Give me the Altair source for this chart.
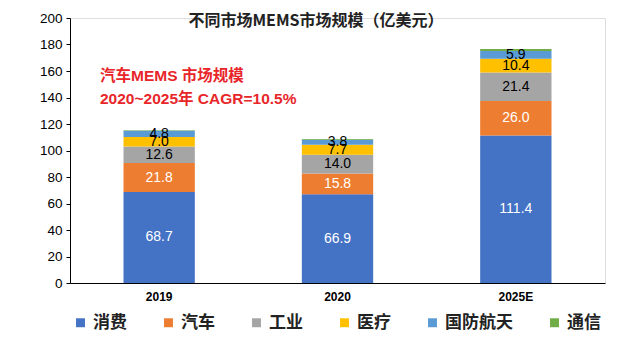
import altair as alt
import pandas as pd

years = ["2019", "2020", "2025E"]
segments = ["消费", "汽车", "工业", "医疗", "国防航天", "通信"]
colors = ["#4472C4", "#ED7D31", "#A5A5A5", "#FFC000", "#5B9BD5", "#70AD47"]
xiaofei = [68.7, 66.9, 111.4]
qiche = [21.8, 15.8, 26.0]
gongye = [12.6, 14.0, 21.4]
yiliao = [7.0, 7.7, 10.4]
guofang = [4.8, 3.8, 5.9]
tongxin = [0.4, 0.4, 1.5]
label_colors = ["white", "white", "black", "black", "black", "none"]
y_ticks = [0, 20, 40, 60, 80, 100, 120, 140, 160, 180, 200]
title_text = "不同市场MEMS市场规模（亿美元）"
annot_lines = ["汽车MEMS 市场规模", "2020~2025年 CAGR=10.5%"]

series = [xiaofei, qiche, gongye, yiliao, guofang, tongxin]
rows = []
for si, (seg, vals) in enumerate(zip(segments, series)):
    for yi, yr in enumerate(years):
        rows.append({"year": yr, "seg": seg, "value": vals[yi], "ord": si,
                     "lab": f"{vals[yi]:.1f}" if seg != "通信" else "",
                     "lc": label_colors[si]})
df = pd.DataFrame(rows)

FONT = "Liberation Sans, Arial, Noto Sans CJK SC"
CJK = "Noto Sans CJK SC"

base = alt.Chart(df).transform_stack(
    stack="value", groupby=["year"], as_=["y0", "y1"],
    sort=[alt.SortField("ord", order="ascending")]
).transform_calculate(mid="(datum.y0 + datum.y1) / 2")

yscale = alt.Scale(domain=[0, 200], nice=False)
yaxis = alt.Axis(values=y_ticks, grid=False, labelOverlap=False,
                 domainColor="black", tickColor="black", tickSize=4,
                 labelFont=FONT, labelFontSize=13.5, labelColor="black",
                 labelPadding=4)

xenc = alt.X("year:N", sort=years, title=None,
             scale=alt.Scale(paddingInner=0.6, paddingOuter=0.3),
             axis=alt.Axis(labelAngle=0, ticks=False, domainColor="black",
                           labelFont=FONT, labelFontSize=12, labelFontWeight="bold",
                           labelColor="black", labelPadding=8))

bars = base.mark_bar().encode(
    x=xenc,
    y=alt.Y("y0:Q", title=None, scale=yscale, axis=yaxis),
    y2="y1:Q",
    color=alt.Color("seg:N", sort=segments,
                    scale=alt.Scale(domain=segments, range=colors),
                    legend=alt.Legend(title=None, orient="none", direction="horizontal",
                                      legendX=2, legendY=296, columns=6,
                                      symbolType="square", symbolSize=80,
                                      symbolStrokeWidth=0, columnPadding=33,
                                      labelFont=CJK, labelFontSize=17,
                                      labelFontWeight="bold", labelColor="#222222",
                                      labelOffset=4)),
)

labels = base.transform_filter("datum.lab != ''").mark_text(
    font=FONT, fontSize=14, baseline="middle").encode(
    x=xenc,
    y=alt.Y("mid:Q", title=None, scale=yscale, axis=yaxis),
    text="lab:N",
    color=alt.Color("lc:N", scale=None),
)

title = alt.Chart(pd.DataFrame({"t": [title_text]})).mark_text(
    font=CJK, fontSize=16, fontWeight="bold", color="#222222", align="center",
    baseline="middle").encode(x=alt.value(246), y=alt.value(3), text="t:N")

annot1 = alt.Chart(pd.DataFrame({"t": [annot_lines[0]]})).mark_text(
    font=FONT, fontSize=15.5, fontWeight="bold", color="#E8262A", align="left",
    baseline="middle").encode(x=alt.value(30), y=alt.value(58), text="t:N")
annot2 = alt.Chart(pd.DataFrame({"t": [annot_lines[1]]})).mark_text(
    font=FONT, fontSize=15.5, fontWeight="bold", color="#E8262A", align="left",
    baseline="middle").encode(x=alt.value(30), y=alt.value(81), text="t:N")

chart = alt.layer(bars, labels, title, annot1, annot2).properties(
    width=535, height=265,
    autosize=alt.AutoSizeParams(type="none"),
    padding={"left": 62, "top": 10, "right": 27, "bottom": 64},
).configure_view(stroke=None).configure(background="white")

chart.save("out.html", embed_options={"renderer": "svg", "actions": False})
